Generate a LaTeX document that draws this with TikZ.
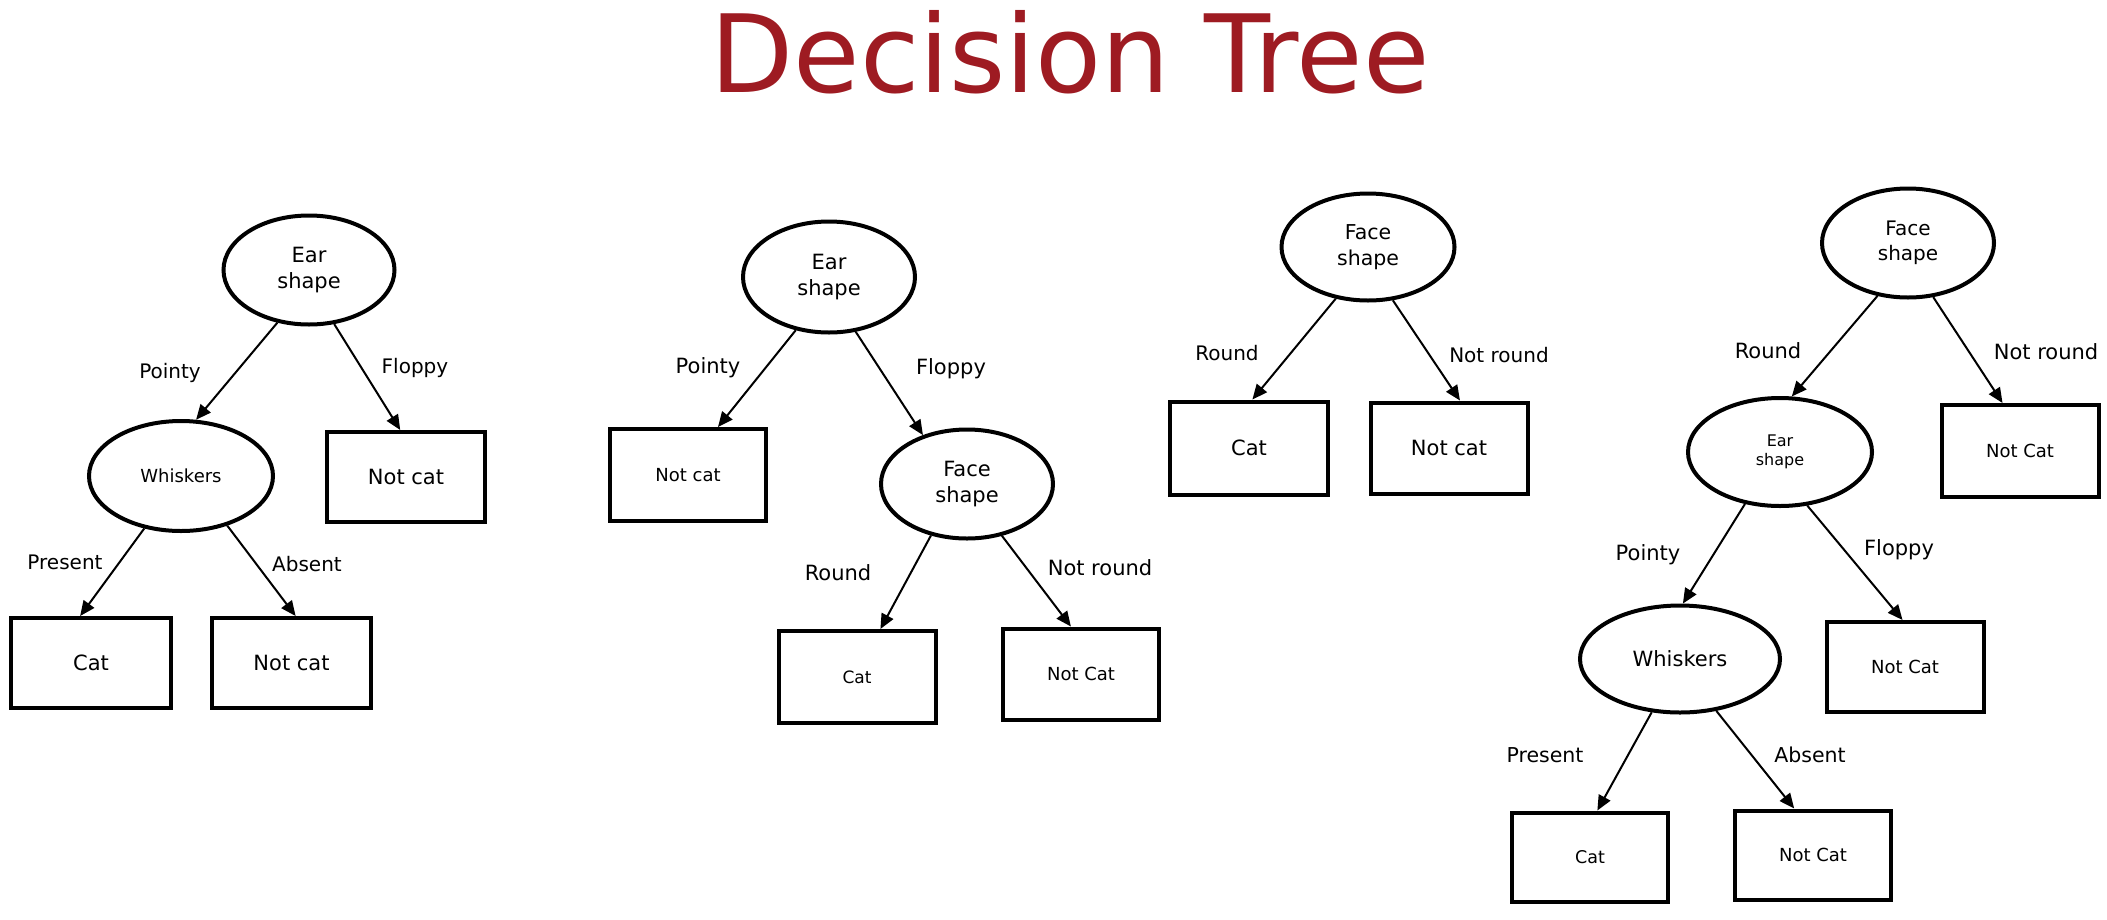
\documentclass[tikz,border=0pt]{standalone}
\usepackage{fontspec}
\setmainfont{DejaVu Sans}
\usetikzlibrary{shapes.geometric,arrows.meta}
\definecolor{titlered}{RGB}{158,27,34}
\begin{document}
\begin{tikzpicture}[x=1pt,y=-1pt,
  fs/.style 2 args={font=\fontsize{#1}{#2}\selectfont},
  ell/.style={ellipse, draw, line width=4pt, inner sep=0pt, align=center},
  leaf/.style={rectangle, draw, line width=4pt, inner sep=0pt, align=center},
  arr/.style={line width=2pt, -{Triangle[length=15pt,width=13pt]}},
  lab/.style={inner sep=0pt, fs={20}{24}}]
\useasboundingbox[fill=white] (0,0) rectangle (2107,919);

% title
\node[anchor=base, text=titlered, fs={108}{120}, inner sep=0pt] (title) at (1070,92) {Decision Tree};

% ---------- tree 1 ----------
\node[ell, fs={21}{26}, minimum width=171pt, minimum height=109pt] (ear1) at (309,270) {Ear\\shape};
\node[ell, fs={18}{22}, minimum width=184pt, minimum height=110pt] (wh1) at (181,476) {Whiskers};
\node[leaf, fs={21}{25}, minimum width=158pt, minimum height=90pt] (nc1a) at (406,477) {Not cat};
\node[leaf, fs={21}{25}, minimum width=160pt, minimum height=90pt] (cat1) at (91,663) {Cat};
\node[leaf, fs={21}{25}, minimum width=159pt, minimum height=90pt] (nc1b) at (291.5,663) {Not cat};
\draw[arr] (ear1.-121.7) -- (wh1.75.7);
\draw[arr] (ear1.-65.4) -- (nc1a.97.1);
\draw[arr] (wh1.-125.3) -- (cat1.103.2);
\draw[arr] (wh1.-47.9) -- (nc1b.85.7);
\node[lab] (l1a) at (170,373) {Pointy};
\node[lab] (l1b) at (415,368) {Floppy};
\node[lab] (l1c) at (65,562) {Present};
\node[lab] (l1d) at (307,564) {Absent};

% ---------- tree 2 ----------
\node[ell, fs={21}{26}, minimum width=172pt, minimum height=111pt] (ear2) at (829,277) {Ear\\shape};
\node[leaf, fs={18}{22}, minimum width=156pt, minimum height=92pt] (nc2) at (688,475) {Not cat};
\node[ell, fs={21}{26}, minimum width=172pt, minimum height=109pt] (face2) at (967,484) {Face\\shape};
\node[leaf, fs={17}{21}, minimum width=157pt, minimum height=92pt] (cat2) at (857,677) {Cat};
\node[leaf, fs={18}{22}, minimum width=156pt, minimum height=91pt] (ncC2) at (1081,674) {Not Cat};
\draw[arr] (ear2.-122) -- (nc2.58);
\draw[arr] (ear2.-64.6) -- (face2.132.6);
\draw[arr] (face2.-125.3) -- (cat2.64.9);
\draw[arr] (face2.-56.8) -- (ncC2.102.9);
\node[lab, fs={21}{25}] (l2a) at (708,368) {Pointy};
\node[lab, fs={21}{25}] (l2b) at (951,369) {Floppy};
\node[lab, fs={21}{25}] (l2c) at (838,573) {Round};
\node[lab, fs={21}{25}] (l2d) at (1100,568) {Not round};

% ---------- tree 3 ----------
\node[ell, fs={20.5}{26}, minimum width=173pt, minimum height=107pt] (face3) at (1368,247) {Face\\shape};
\node[leaf, fs={21}{25}, minimum width=158pt, minimum height=93pt] (cat3) at (1249,448) {Cat};
\node[leaf, fs={21}{25}, minimum width=157pt, minimum height=91pt] (nc3) at (1449,448) {Not cat};
\draw[arr] (face3.-122) -- (cat3.86.3);
\draw[arr] (face3.-65.3) -- (nc3.77.1);
\node[lab] (l3a) at (1227,353) {Round};
\node[lab] (l3b) at (1499,355) {Not round};

% ---------- tree 4 ----------
\node[ell, fs={20}{25}, minimum width=172pt, minimum height=109pt] (face4) at (1908,243) {Face\\shape};
\node[leaf, fs={18}{22}, minimum width=157pt, minimum height=92pt] (ncC4a) at (2020,451) {Not Cat};
\node[ell, fs={16}{19}, minimum width=184pt, minimum height=108pt] (ear4) at (1780,452) {Ear\\shape};
\node[leaf, fs={18}{22}, minimum width=157pt, minimum height=90pt] (ncC4b) at (1905,667) {Not Cat};
\node[ell, fs={21}{25}, minimum width=200pt, minimum height=107pt] (wh4) at (1680,659) {Whiskers};
\node[leaf, fs={17.5}{21}, minimum width=156pt, minimum height=89pt] (cat4) at (1590,857) {Cat};
\node[leaf, fs={18}{22}, minimum width=156pt, minimum height=89pt] (ncC4c) at (1813,855) {Not Cat};
\draw[arr] (face4.-120.8) -- (ear4.78.1);
\draw[arr] (face4.-65) -- (ncC4a.110.6);
\draw[arr] (ear4.-124.6) -- (wh4.87);
\draw[arr] (ear4.-63.4) -- (ncC4b.93.6);
\draw[arr] (wh4.-118.9) -- (cat4.81.9);
\draw[arr] (wh4.-55.1) -- (ncC4c.112.8);
\node[lab, fs={21}{25}] (l4a) at (1768,351) {Round};
\node[lab, fs={21}{25}] (l4b) at (2046,352) {Not round};
\node[lab, fs={21}{25}] (l4c) at (1648,555) {Pointy};
\node[lab, fs={21}{25}] (l4d) at (1899,550) {Floppy};
\node[lab, fs={20.5}{25}] (l4e) at (1545,755) {Present};
\node[lab, fs={20.5}{25}] (l4f) at (1810,755) {Absent};
\end{tikzpicture}
\end{document}
